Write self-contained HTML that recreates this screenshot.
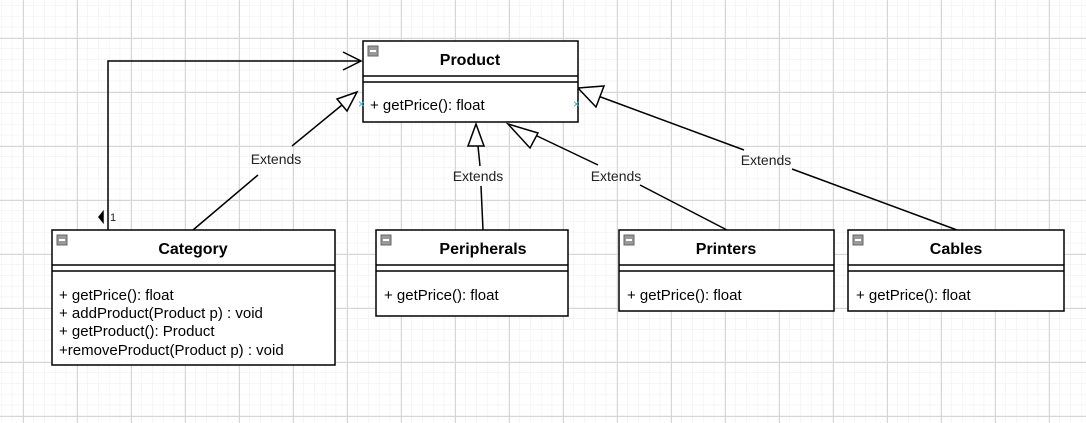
<!DOCTYPE html>
<html><head><style>
body{margin:0;width:1086px;height:423px;overflow:hidden;background:#fff;}
svg{display:block;font-family:"Liberation Sans",Arial,sans-serif;}
</style></head><body>
<svg width="1086" height="423" viewBox="0 0 1086 423">
<defs>
<pattern id="minor" x="1.4" y="5.6" width="10.8" height="10.8" patternUnits="userSpaceOnUse">
<path d="M10.8 0V10.8M0 10.8H10.8" stroke="#ececec" stroke-width="1" fill="none"/>
</pattern>
<pattern id="major" x="23" y="38" width="54" height="54" patternUnits="userSpaceOnUse">
<path d="M0.5 0V54M0 0.5H54" stroke="#d6d6d6" stroke-width="1" fill="none"/>
</pattern>
</defs>
<rect width="1086" height="423" fill="url(#minor)"/>
<rect width="1086" height="423" fill="url(#major)"/>

<g stroke="#000" stroke-width="1.5" fill="none">
<!-- association -->
<polyline points="108,230 108,61 361,61"/>
<polyline points="343,52 361,61 343,70"/>
<path d="M103,212 L103,222 L99,217 Z" fill="#000"/>
<!-- category extends -->
<line x1="193" y1="230" x2="258" y2="175"/>
<line x1="292" y1="146" x2="342" y2="105"/>
<path d="M357,92 L347,111 L337,99 Z" fill="#fff"/>
<!-- peripherals -->
<line x1="483" y1="230" x2="481" y2="186"/>
<line x1="480" y1="166" x2="478" y2="146"/>
<path d="M476,124 L484,146 L468,146 Z" fill="#fff"/>
<!-- printers -->
<line x1="727" y1="230" x2="640" y2="185"/>
<line x1="598" y1="165" x2="535" y2="135"/>
<path d="M508,124 L538,133 L530,148 Z" fill="#fff"/>
<!-- cables -->
<line x1="957" y1="230" x2="792" y2="169"/>
<line x1="744" y1="150" x2="598" y2="96"/>
<path d="M578,88 L604,86 L596,107 Z" fill="#fff"/>
</g>
<g font-size="14" fill="#222">
<text x="276" y="164" text-anchor="middle">Extends</text>
<text x="478" y="181" text-anchor="middle">Extends</text>
<text x="616" y="181" text-anchor="middle">Extends</text>
<text x="766" y="165" text-anchor="middle">Extends</text>
<text x="110" y="221" font-size="11">1</text>
</g>

<g font-size="15">
<rect x="363" y="41" width="215" height="81" fill="#fff" stroke="#000" stroke-width="1.5"/>
<line x1="363" y1="76" x2="578" y2="76" stroke="#000" stroke-width="1.5"/>
<line x1="363" y1="82" x2="578" y2="82" stroke="#000" stroke-width="1.5"/>
<rect x="368" y="46" width="10" height="10" fill="#999" stroke="#666"/><line x1="370" y1="51" x2="376" y2="51" stroke="#fff" stroke-width="2"/>
<text x="470" y="65" text-anchor="middle" font-weight="bold" font-size="16">Product</text>
<text x="370" y="110">+ getPrice(): float</text>
<text x="358" y="108" fill="#3bb0e0" font-size="12">×</text>
<text x="573" y="108" fill="#3bb0e0" font-size="12">×</text>

<rect x="52" y="230" width="283" height="135" fill="#fff" stroke="#000" stroke-width="1.5"/>
<line x1="52" y1="265" x2="335" y2="265" stroke="#000" stroke-width="1.5"/>
<line x1="52" y1="271" x2="335" y2="271" stroke="#000" stroke-width="1.5"/>
<rect x="57" y="235" width="10" height="10" fill="#999" stroke="#666"/><line x1="59" y1="240" x2="65" y2="240" stroke="#fff" stroke-width="2"/>
<text x="193" y="254" text-anchor="middle" font-weight="bold" font-size="16">Category</text>
<text x="59" y="300">+ getPrice(): float</text>
<text x="59" y="318">+ addProduct(Product p) : void</text>
<text x="59" y="336">+ getProduct(): Product</text>
<text x="59" y="355">+removeProduct(Product p) : void</text>

<rect x="376" y="230" width="192" height="86" fill="#fff" stroke="#000" stroke-width="1.5"/>
<line x1="376" y1="265" x2="568" y2="265" stroke="#000" stroke-width="1.5"/>
<line x1="376" y1="271" x2="568" y2="271" stroke="#000" stroke-width="1.5"/>
<rect x="381" y="235" width="10" height="10" fill="#999" stroke="#666"/><line x1="383" y1="240" x2="389" y2="240" stroke="#fff" stroke-width="2"/>
<text x="483" y="254" text-anchor="middle" font-weight="bold" font-size="16">Peripherals</text>
<text x="384" y="300">+ getPrice(): float</text>

<rect x="619" y="230" width="215" height="81" fill="#fff" stroke="#000" stroke-width="1.5"/>
<line x1="619" y1="265" x2="834" y2="265" stroke="#000" stroke-width="1.5"/>
<line x1="619" y1="271" x2="834" y2="271" stroke="#000" stroke-width="1.5"/>
<rect x="624" y="235" width="10" height="10" fill="#999" stroke="#666"/><line x1="626" y1="240" x2="632" y2="240" stroke="#fff" stroke-width="2"/>
<text x="726" y="254" text-anchor="middle" font-weight="bold" font-size="16">Printers</text>
<text x="627" y="300">+ getPrice(): float</text>

<rect x="848" y="230" width="216" height="81" fill="#fff" stroke="#000" stroke-width="1.5"/>
<line x1="848" y1="265" x2="1064" y2="265" stroke="#000" stroke-width="1.5"/>
<line x1="848" y1="271" x2="1064" y2="271" stroke="#000" stroke-width="1.5"/>
<rect x="853" y="235" width="10" height="10" fill="#999" stroke="#666"/><line x1="855" y1="240" x2="861" y2="240" stroke="#fff" stroke-width="2"/>
<text x="956" y="254" text-anchor="middle" font-weight="bold" font-size="16">Cables</text>
<text x="856" y="300">+ getPrice(): float</text>
</g>
</svg>
</body></html>
